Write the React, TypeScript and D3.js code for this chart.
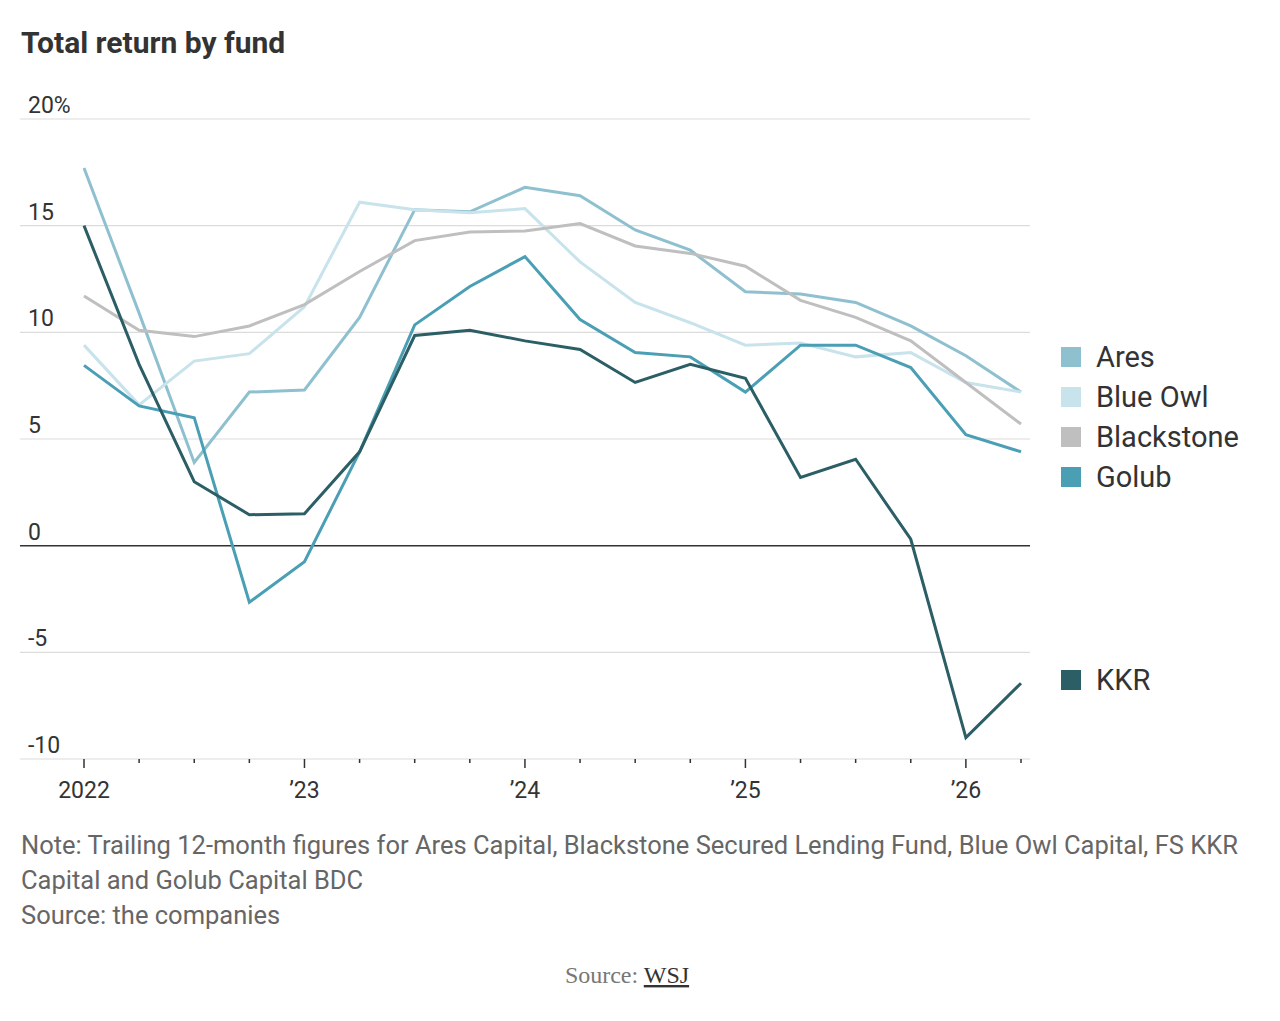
import React from "react";
import * as d3 from "d3";

const quarters = [
  2022, 2022.25, 2022.5, 2022.75, 2023, 2023.25, 2023.5, 2023.75, 2024,
  2024.25, 2024.5, 2024.75, 2025, 2025.25, 2025.5, 2025.75, 2026, 2026.25,
];

const ares = [17.7, 10.9, 3.9, 7.2, 7.3, 10.7, 15.75, 15.65, 16.8, 16.4, 14.8, 13.85, 11.9, 11.8, 11.4, 10.3, 8.9, 7.2];
const blueOwl = [9.4, 6.6, 8.65, 9.0, 11.2, 16.1, 15.75, 15.6, 15.8, 13.3, 11.4, 10.45, 9.4, 9.5, 8.85, 9.05, 7.65, 7.2];
const blackstone = [11.7, 10.1, 9.8, 10.3, 11.3, 12.85, 14.3, 14.7, 14.75, 15.1, 14.05, 13.7, 13.1, 11.5, 10.7, 9.6, 7.65, 5.7];
const golub = [8.45, 6.55, 6.0, -2.65, -0.75, 4.4, 10.35, 12.15, 13.55, 10.6, 9.05, 8.85, 7.2, 9.4, 9.4, 8.35, 5.2, 4.4];
const kkr = [15.0, 8.5, 3.0, 1.45, 1.5, 4.4, 9.85, 10.1, 9.6, 9.2, 7.65, 8.5, 7.85, 3.2, 4.05, 0.3, -9.0, -6.45];

const seriesNames = ["Ares", "Blue Owl", "Blackstone", "Golub", "KKR"];
const seriesColors = ["#8ec0cf", "#c8e3eb", "#bfbfbf", "#4a9fb5", "#2b5e65"];
const seriesValues = [ares, blueOwl, blackstone, golub, kkr];

const yTicks = [20, 15, 10, 5, 0, -5, -10];
const yTickLabels = ["20%", "15", "10", "5", "0", "-5", "-10"];
const xMajorTicks = [2022, 2023, 2024, 2025, 2026];
const xMajorLabels = ["2022", "\u201923", "\u201924", "\u201925", "\u201926"];

const title = "Total return by fund";
const noteLines = [
  "Note: Trailing 12-month figures for Ares Capital, Blackstone Secured Lending Fund, Blue Owl Capital, FS KKR",
  "Capital and Golub Capital BDC",
  "Source: the companies",
];

const FONT = "Roboto, 'Noto Sans', sans-serif";

export default function App() {
  const W = 1280;
  const H = 1021;
  const x = d3.scaleLinear().domain([2022, 2026.25]).range([84, 1021]);
  const y = d3.scaleLinear().domain([-10, 20]).range([759, 119]);
  const gridX0 = 20;
  const gridX1 = 1030;

  const line = d3
    .line<number>()
    .x((_, i) => x(quarters[i]))
    .y((d) => y(d));

  const legendY = [357, 397, 437, 477, 680];

  return (
    <svg
      width={W}
      height={H}
      viewBox={`0 0 ${W} ${H}`}
      style={{ position: "absolute", left: 0, top: 0, background: "#fff" }}
    >
      <text x={21} y={53} fontFamily={FONT} fontWeight={700} fontSize={30} fill="#333">
        {title}
      </text>

      {/* grid */}
      {yTicks.map((t, i) => (
        <g key={t}>
          <line
            x1={gridX0}
            x2={gridX1}
            y1={y(t)}
            y2={y(t)}
            stroke={t === 0 ? "#333" : "#dcdcdc"}
            strokeWidth={t === 0 ? 1.5 : 1.2}
          />
          <text x={28} y={y(t) - 6} fontFamily={FONT} fontSize={23} fill="#333">
            {yTickLabels[i]}
          </text>
        </g>
      ))}

      {/* x ticks */}
      {quarters.map((q) => {
        const major = xMajorTicks.includes(q);
        return (
          <line
            key={q}
            x1={x(q)}
            x2={x(q)}
            y1={y(-10)}
            y2={y(-10) + (major ? 9 : 4)}
            stroke="#333"
            strokeWidth={1.5}
          />
        );
      })}
      {xMajorTicks.map((t, i) => (
        <text
          key={t}
          x={x(t)}
          y={798}
          textAnchor="middle"
          fontFamily={FONT}
          fontSize={23}
          fill="#333"
        >
          {xMajorLabels[i]}
        </text>
      ))}

      {/* lines */}
      {seriesValues.map((vals, i) => (
        <path
          key={seriesNames[i]}
          d={line(vals) || ""}
          fill="none"
          stroke={seriesColors[i]}
          strokeWidth={3}
          strokeLinejoin="miter"
        />
      ))}

      {/* legend */}
      {seriesNames.map((n, i) => (
        <g key={n}>
          <rect x={1061} y={legendY[i] - 10} width={20} height={20} fill={seriesColors[i]} />
          <text x={1096} y={legendY[i] + 10} fontFamily={FONT} fontSize={29} fill="#333">
            {n}
          </text>
        </g>
      ))}

      {/* notes */}
      {noteLines.map((l, i) => (
        <text key={i} x={21} y={854 + i * 35} fontFamily={FONT} fontSize={25.5} fill="#666">
          {l}
        </text>
      ))}

      <text x={627} y={983} textAnchor="middle" fontFamily="'Liberation Serif', serif" fontSize={24} fill="#777">
        Source:{" "}
        <tspan fill="#333" textDecoration="underline">
          WSJ
        </tspan>
      </text>
    </svg>
  );
}
